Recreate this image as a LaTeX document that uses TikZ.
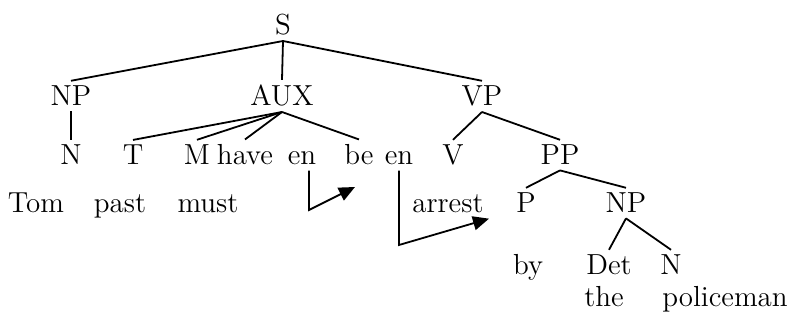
\documentclass[tikz,border=0pt]{standalone}
\usepackage{tikz}
\usetikzlibrary{arrows.meta}

\begin{document}
\begin{tikzpicture}[x=0.5pt, y=-0.5pt, font=\fontsize{14.5}{17}\selectfont,
		every node/.style={anchor=base, inner sep=2.5pt},
		branch/.style={line width=0.9pt},
		hop/.style={line width=0.9pt, -{Triangle[length=8pt,width=7pt]}}]
\useasboundingbox (0,0) rectangle (787,324);

				% categories, top down (x, baseline)
				\node (s) at (283, 35) {S};
				\foreach \name/\x/\txt in {np/71/NP, aux/282/AUX, vp/482/VP}
					\node (\name) at (\x, 106) {\txt};
				\foreach \name/\x/\txt in {n/71/N, t/133/T, m/197/M, have/245/have, en1/302/en, be/359/be, en2/399/en, v/453/V, pp/560/PP}
					\node (\name) at (\x, 165) {\txt};
				\foreach \name/\x/\txt in {tom/36/Tom, past/120/past, must/208/must, arrest/448/arrest, p/526/P, np2/626/NP}
					\node (\name) at (\x, 213) {\txt};
				\foreach \name/\x/\txt in {by/528/by, det/609/Det, n2/671/N}
					\node (\name) at (\x, 275) {\txt};
				\foreach \name/\x/\txt in {the/604/the, policeman/725/policeman}
					\node (\name) at (\x, 307) {\txt};

				% branches
				\foreach \a/\b in {s/np, s/aux, s/vp, np/n, aux/t, aux/m, aux/have, aux/be, vp/v, vp/pp, pp/p, pp/np2, np2/det, np2/n2}
					\draw[branch] (\a.south) -- (\b.north);

				% affix hopping
				\coordinate (bend1) at (309, 210);
				\coordinate (tip1) at (355, 187);
				\draw[hop] ([xshift=3.5pt]en1.south) -- (bend1) -- (tip1);
				\coordinate (bend2) at (399, 245);
				\draw[hop] (en2.south) -- (bend2) -- (arrest.south east);
		\end{tikzpicture}
\end{document}
